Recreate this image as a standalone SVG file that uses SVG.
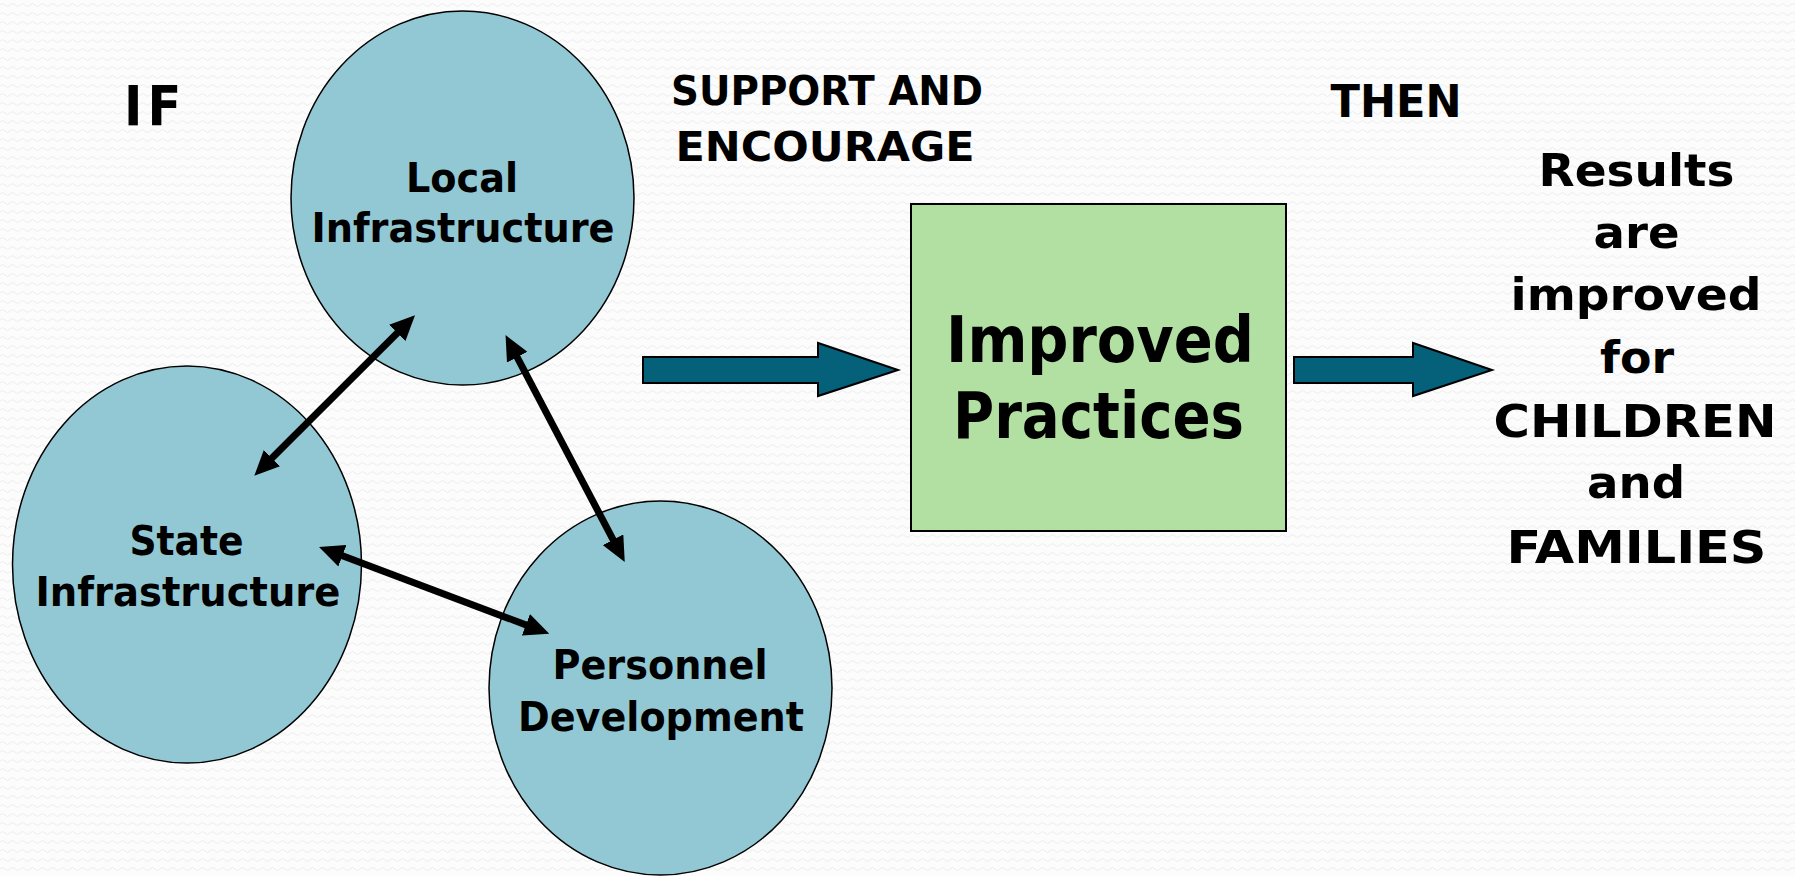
<svg xmlns="http://www.w3.org/2000/svg" width="1795" height="876" viewBox="0 0 1795 876">
  <style>
    .t { font-family: "DejaVu Sans Condensed", "DejaVu Sans", "Liberation Sans", sans-serif; font-stretch: condensed; font-weight: bold; fill: #000; }
    .c { text-anchor: middle; }
    .oval { fill: #92C8D4; stroke: #000; stroke-width: 1.5; }
    .box { fill: #B2DFA2; stroke: #000; stroke-width: 2; }
    .fat { fill: #05607A; stroke: #000; stroke-width: 2; stroke-linejoin: miter; }
    .conn { stroke: #000; stroke-width: 7; fill: none; marker-start: url(#head); marker-end: url(#head); }
  </style>
  <defs>
    <pattern id="bg" width="10" height="9" patternUnits="userSpaceOnUse">
      <path d="M0,5 Q2.5,2 5,5 T10,5" fill="none" stroke="#EDEDED" stroke-width="1"/>
    </pattern>
    <marker id="head" viewBox="0 0 25 23" refX="12" refY="11.5" markerWidth="25" markerHeight="23" markerUnits="userSpaceOnUse" orient="auto-start-reverse">
      <path d="M0,0 L25,11.5 L0,23 Z" fill="#000"/>
    </marker>
  </defs>

  <rect x="0" y="0" width="1795" height="876" fill="#FCFCFC"/>
  <rect x="0" y="0" width="1795" height="876" fill="url(#bg)"/>

  <g id="label-if">
    <text class="t" x="124" y="125" font-size="55" letter-spacing="5">IF</text>
  </g>
  <g id="label-support">
    <text class="t c" x="827" y="105" font-size="41" textLength="312" lengthAdjust="spacingAndGlyphs">SUPPORT AND</text>
    <text class="t c" x="825" y="161" font-size="41" textLength="299" lengthAdjust="spacingAndGlyphs">ENCOURAGE</text>
  </g>
  <g id="label-then">
    <text class="t c" x="1396" y="117" font-size="44" textLength="131" lengthAdjust="spacingAndGlyphs">THEN</text>
  </g>

  <g id="node-local">
    <ellipse class="oval" cx="462.5" cy="198" rx="171.5" ry="187"/>
    <text class="t c" x="462" y="191.5" font-size="41" textLength="112" lengthAdjust="spacingAndGlyphs">Local</text>
    <text class="t c" x="463" y="241.5" font-size="41" textLength="303" lengthAdjust="spacingAndGlyphs">Infrastructure</text>
  </g>
  <g id="node-state">
    <ellipse class="oval" cx="187" cy="564.5" rx="174.5" ry="198.5"/>
    <text class="t c" x="186.5" y="555" font-size="41" textLength="114" lengthAdjust="spacingAndGlyphs">State</text>
    <text class="t c" x="188" y="605.5" font-size="41" textLength="305" lengthAdjust="spacingAndGlyphs">Infrastructure</text>
  </g>
  <g id="node-personnel">
    <ellipse class="oval" cx="660.5" cy="688" rx="171.5" ry="187"/>
    <text class="t c" x="660" y="679" font-size="41" textLength="215" lengthAdjust="spacingAndGlyphs">Personnel</text>
    <text class="t c" x="661" y="731" font-size="41" textLength="286" lengthAdjust="spacingAndGlyphs">Development</text>
  </g>

  <g id="connectors">
    <line class="conn" x1="405.8" y1="324.5" x2="263.5" y2="466.5"/>
    <line class="conn" x1="511.6" y1="346.6" x2="618.7" y2="550.4"/>
    <line class="conn" x1="331.2" y1="551.5" x2="537.1" y2="629.1"/>
    <path class="fat" d="M643,357 L818,357 L818,343 L898,370 L818,396 L818,383 L643,383 Z"/>
    <path class="fat" d="M1294,357 L1413,357 L1413,343 L1492,370 L1413,396 L1413,383 L1294,383 Z"/>
  </g>

  <g id="node-practices">
    <rect class="box" x="911" y="204" width="375" height="327"/>
    <text class="t c" x="1100" y="362" font-size="64" textLength="308" lengthAdjust="spacingAndGlyphs">Improved</text>
    <text class="t c" x="1098.5" y="438" font-size="64" textLength="291" lengthAdjust="spacingAndGlyphs">Practices</text>
  </g>

  <g id="label-results">
    <text class="t c" x="1636.5" y="186" font-size="45" textLength="196" lengthAdjust="spacingAndGlyphs">Results</text>
    <text class="t c" x="1636.5" y="248" font-size="45" textLength="86" lengthAdjust="spacingAndGlyphs">are</text>
    <text class="t c" x="1636" y="310" font-size="45" textLength="251" lengthAdjust="spacingAndGlyphs">improved</text>
    <text class="t c" x="1637" y="373" font-size="45" textLength="74" lengthAdjust="spacingAndGlyphs">for</text>
    <text class="t c" x="1635" y="436.5" font-size="45" textLength="283" lengthAdjust="spacingAndGlyphs">CHILDREN</text>
    <text class="t c" x="1636" y="498" font-size="45" textLength="98" lengthAdjust="spacingAndGlyphs">and</text>
    <text class="t c" x="1636.5" y="563" font-size="45" textLength="260" lengthAdjust="spacingAndGlyphs">FAMILIES</text>
  </g>
</svg>
